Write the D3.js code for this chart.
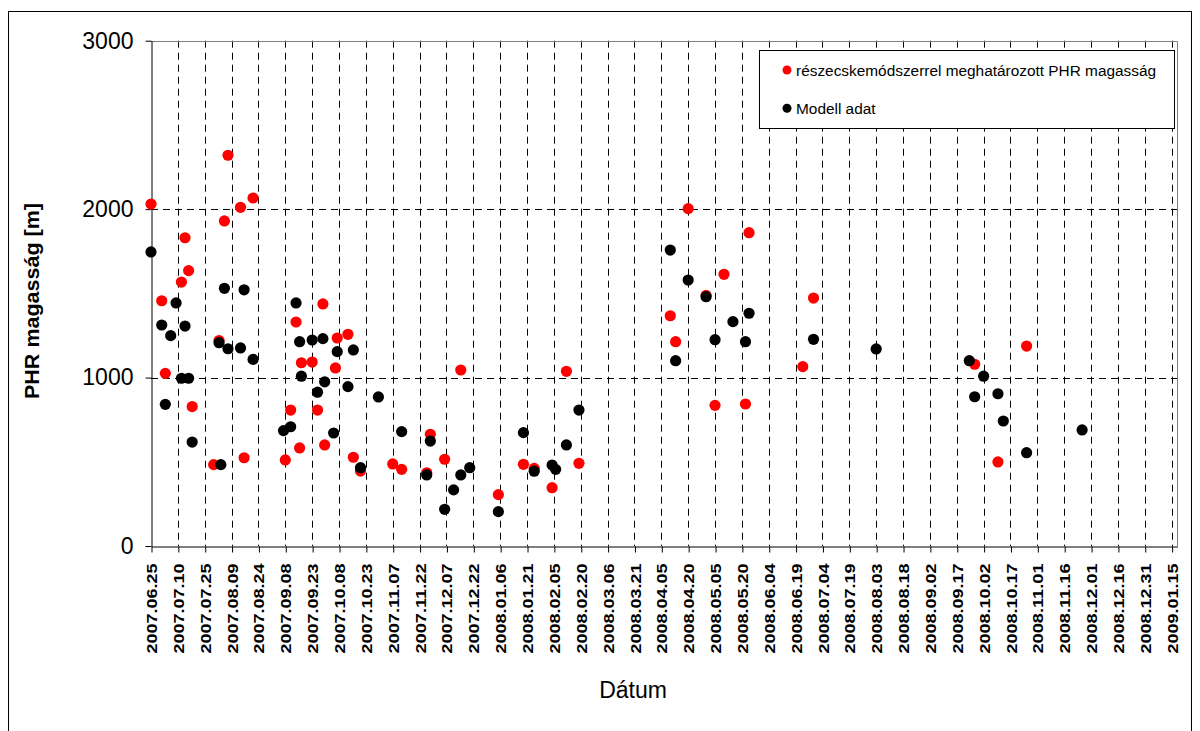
<!DOCTYPE html>
<html>
<head>
<meta charset="utf-8">
<script src="https://cdn.jsdelivr.net/npm/d3@7"></script>
<style>
  html, body { margin: 0; padding: 0; background: #fff; }
  svg { display: block; }
  text { font-family: Arial, "Liberation Sans", sans-serif; }
</style>
</head>
<body>
<svg id="chart" width="1200" height="731"></svg>
<script>
// Tick dates along the time axis (every 15 days)
const tickLabels = [
  "2007.06.25", "2007.07.10", "2007.07.25", "2007.08.09", "2007.08.24",
  "2007.09.08", "2007.09.23", "2007.10.08", "2007.10.23", "2007.11.07",
  "2007.11.22", "2007.12.07", "2007.12.22", "2008.01.06", "2008.01.21",
  "2008.02.05", "2008.02.20", "2008.03.06", "2008.03.21", "2008.04.05",
  "2008.04.20", "2008.05.05", "2008.05.20", "2008.06.04", "2008.06.19",
  "2008.07.04", "2008.07.19", "2008.08.03", "2008.08.18", "2008.09.02",
  "2008.09.17", "2008.10.02", "2008.10.17", "2008.11.01", "2008.11.16",
  "2008.12.01", "2008.12.16", "2008.12.31", "2009.01.15"
];
const yTicks = [0, 1000, 2000, 3000];

// PBL height from the particle method
const measuredDates = [
  "2007.06.25", "2007.07.01", "2007.07.03", "2007.07.12", "2007.07.14",
  "2007.07.16", "2007.07.18", "2007.07.30", "2007.08.02", "2007.08.05",
  "2007.08.07", "2007.08.14", "2007.08.16", "2007.08.21", "2007.09.08",
  "2007.09.11", "2007.09.14", "2007.09.16", "2007.09.17", "2007.09.23",
  "2007.09.26", "2007.09.29", "2007.09.30", "2007.10.06", "2007.10.07",
  "2007.10.13", "2007.10.16", "2007.10.20", "2007.11.07", "2007.11.12",
  "2007.11.26", "2007.11.28", "2007.12.06", "2007.12.15", "2008.01.05",
  "2008.01.19", "2008.01.25", "2008.02.04", "2008.02.12", "2008.02.19",
  "2008.04.10", "2008.04.13", "2008.04.20", "2008.04.30", "2008.05.05",
  "2008.05.10", "2008.05.22", "2008.05.24", "2008.06.23", "2008.06.29",
  "2008.09.27", "2008.10.10", "2008.10.26"
];
const measuredValues = [
  2030, 1456, 1025, 1567, 1830,
  1635, 828, 483, 1220, 1930,
  2320, 2011, 524, 2066, 511,
  807, 1330, 582, 1088, 1092,
  807, 1437, 600, 1057, 1235,
  1257, 527, 445, 487, 455,
  435, 663, 515, 1045, 305,
  485, 461, 346, 1037, 491,
  1367, 1213, 2003, 1488, 835,
  1613, 843, 1860, 1065, 1472,
  1079, 499, 1187
];

// Model PBL height
const modelDates = [
  "2007.06.25", "2007.07.01", "2007.07.03", "2007.07.06", "2007.07.09",
  "2007.07.12", "2007.07.14", "2007.07.16", "2007.07.18", "2007.08.02",
  "2007.08.03", "2007.08.05", "2007.08.07", "2007.08.14", "2007.08.16",
  "2007.08.21", "2007.09.07", "2007.09.11", "2007.09.14", "2007.09.16",
  "2007.09.17", "2007.09.23", "2007.09.26", "2007.09.29", "2007.09.30",
  "2007.10.05", "2007.10.07", "2007.10.13", "2007.10.16", "2007.10.20",
  "2007.10.30", "2007.11.12", "2007.11.26", "2007.11.28", "2007.12.06",
  "2007.12.11", "2007.12.15", "2007.12.20", "2008.01.05", "2008.01.19",
  "2008.01.25", "2008.02.04", "2008.02.06", "2008.02.12", "2008.02.19",
  "2008.04.10", "2008.04.13", "2008.04.20", "2008.04.30", "2008.05.05",
  "2008.05.15", "2008.05.22", "2008.05.24", "2008.06.29", "2008.08.03",
  "2008.09.24", "2008.09.27", "2008.10.02", "2008.10.10", "2008.10.13",
  "2008.10.26", "2008.11.26"
];
const modelValues = [
  1746, 1312, 841, 1249, 1443,
  996, 1306, 996, 617, 1207,
  483, 1530, 1171, 1176, 1521,
  1108, 685, 708, 1443, 1213,
  1008, 1223, 913, 1231, 975,
  671, 1154, 946, 1164, 465,
  885, 679, 422, 623, 218,
  333, 422, 465, 204, 673,
  444, 481, 455, 600, 807,
  1757, 1100, 1579, 1480, 1225,
  1332, 1213, 1382, 1227, 1170,
  1100, 886, 1008, 904, 742,
  554, 689
];

const seriesNames = ["részecskemódszerrel meghatározott PHR magasság", "Modell adat"];
const seriesColors = ["#ff0000", "#000000"];

const parseDay = d3.utcParse("%Y.%m.%d");
const fmtDay = d3.utcFormat("%Y.%m.%d");

const svg = d3.select("#chart");

// chart area frame
svg.append("rect")
  .attr("x", 8.5).attr("y", 11.5)
  .attr("width", 1183).attr("height", 730)
  .attr("fill", "#fff").attr("stroke", "#000").attr("stroke-width", 1);

const plot = { left: 151, right: 1177, top: 40.7, bottom: 546 };

const x = d3.scaleUtc()
  .domain([parseDay("2007.06.25"), parseDay("2009.01.18")])
  .range([plot.left, plot.right]);
const y = d3.scaleLinear()
  .domain([0, 3000])
  .range([plot.bottom, plot.top]);

const tickDates = tickLabels.map(parseDay);

// vertical dashed gridlines
svg.append("g")
  .selectAll("line")
  .data(tickDates.slice(1))
  .join("line")
  .attr("x1", d => Math.round(x(d)) + 0.5)
  .attr("x2", d => Math.round(x(d)) + 0.5)
  .attr("y1", y(3000)).attr("y2", y(0))
  .attr("stroke", "#000").attr("stroke-width", 1)
  .attr("stroke-dasharray", "7,5");

// horizontal dashed gridlines
svg.append("g")
  .selectAll("line")
  .data(yTicks.filter(v => v > 0 && v < 3000))
  .join("line")
  .attr("x1", plot.left).attr("x2", plot.right)
  .attr("y1", d => Math.round(y(d)) + 0.5)
  .attr("y2", d => Math.round(y(d)) + 0.5)
  .attr("stroke", "#000").attr("stroke-width", 1)
  .attr("stroke-dasharray", "7,5");

// plot area border (top and right)
svg.append("path")
  .attr("d", `M${plot.left},${Math.round(plot.top) + 0.5}H${plot.right + 0.5}V${plot.bottom}`)
  .attr("fill", "none").attr("stroke", "#808080").attr("stroke-width", 1);

// x axis
const xAxis = svg.append("g")
  .attr("transform", `translate(0.5,${Math.round(plot.bottom) + 0.5})`)
  .call(d3.axisBottom(x).tickValues(tickDates).tickFormat(fmtDay).tickSizeInner(6).tickSizeOuter(0));
xAxis.select(".domain").attr("stroke", "#000");
xAxis.selectAll(".tick line").attr("stroke", "#000");
xAxis.selectAll(".tick text")
  .attr("transform", "rotate(-90)")
  .attr("text-anchor", "end")
  .attr("x", -17)
  .attr("y", 0)
  .attr("dy", "0.36em")
  .attr("fill", "#000")
  .attr("font-family", "Arial, 'Liberation Sans', sans-serif")
  .attr("font-size", 14)
  .attr("font-weight", "bold")
  .attr("textLength", 90)
  .attr("lengthAdjust", "spacingAndGlyphs");

// y axis
const yAxis = svg.append("g")
  .attr("transform", `translate(${Math.round(plot.left) + 0.5},0)`)
  .call(d3.axisLeft(y).tickValues(yTicks).tickFormat(d3.format("d")).tickSizeInner(6).tickSizeOuter(0));
yAxis.select(".domain").attr("stroke", "#000");
yAxis.selectAll(".tick line").attr("stroke", "#000");
yAxis.selectAll(".tick text")
  .attr("x", -18)
  .attr("fill", "#000")
  .attr("font-family", "Arial, 'Liberation Sans', sans-serif")
  .attr("font-size", 23);

// axis titles
svg.append("text")
  .attr("x", 633).attr("y", 698)
  .attr("text-anchor", "middle")
  .attr("font-size", 23)
  .text("Dátum");

svg.append("text")
  .attr("transform", "translate(39,301) rotate(-90)")
  .attr("text-anchor", "middle")
  .attr("font-size", 20)
  .attr("font-weight", "bold")
  .attr("textLength", 196)
  .attr("lengthAdjust", "spacingAndGlyphs")
  .text("PHR magasság [m]");

// data points: measured first, model drawn on top
const measured = measuredDates.map((d, i) => ({ date: parseDay(d), value: measuredValues[i] }));
const model = modelDates.map((d, i) => ({ date: parseDay(d), value: modelValues[i] }));

[measured, model].forEach((series, k) => {
  svg.append("g")
    .selectAll("circle")
    .data(series)
    .join("circle")
    .attr("cx", d => x(d.date))
    .attr("cy", d => y(d.value))
    .attr("r", 5.6)
    .attr("fill", seriesColors[k]);
});

// legend
const legend = svg.append("g");
legend.append("rect")
  .attr("x", 759.5).attr("y", 50.5)
  .attr("width", 415).attr("height", 78)
  .attr("fill", "#fff").attr("stroke", "#000").attr("stroke-width", 1);

const legendRows = [70, 108.3];
seriesNames.forEach((name, k) => {
  legend.append("circle")
    .attr("cx", 787).attr("cy", legendRows[k])
    .attr("r", 4.5)
    .attr("fill", seriesColors[k]);
  legend.append("text")
    .attr("x", 796).attr("y", legendRows[k] + 5.5)
    .attr("font-size", 15.4)
    .attr("fill", "#000")
    .text(name);
});
</script>
</body>
</html>
